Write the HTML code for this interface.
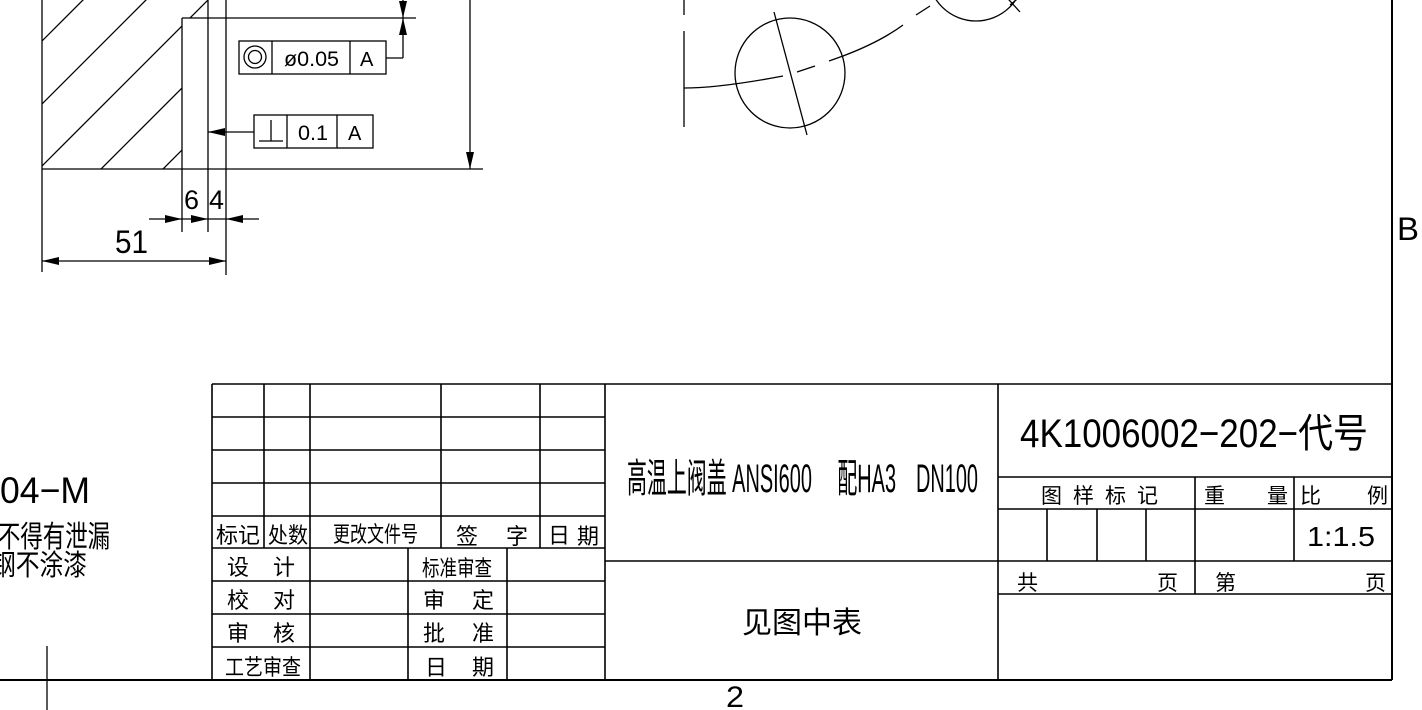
<!DOCTYPE html>
<html><head><meta charset="utf-8"><style>
html,body{margin:0;padding:0;background:#fff;}
svg{display:block;}
text{font-family:"Liberation Sans","Noto Sans CJK SC",sans-serif;fill:#000;}
</style></head><body>
<svg width="1422" height="710" viewBox="0 0 1422 710" xmlns="http://www.w3.org/2000/svg">
<defs>
<clipPath id="hc"><polygon points="42,0 208,0 208,18 182,18 182,169 42,169"/></clipPath>
</defs>
<g stroke="#000" stroke-width="1.3" fill="none">
<g clip-path="url(#hc)">
<line x1="-200" y1="221" x2="221" y2="-200"/>
<line x1="-200" y1="283" x2="283" y2="-200"/>
<line x1="-200" y1="346" x2="346" y2="-200"/>
<line x1="-200" y1="408" x2="408" y2="-200"/>
<line x1="-200" y1="470" x2="470" y2="-200"/>
<line x1="-200" y1="532" x2="532" y2="-200"/>
</g>
<line x1="42" y1="0" x2="42" y2="272"/>
<line x1="182" y1="18" x2="182" y2="232"/>
<line x1="208" y1="0" x2="208" y2="232"/>
<line x1="226" y1="0" x2="226" y2="275"/>
<line x1="42" y1="169" x2="483" y2="169"/>
<line x1="182" y1="18" x2="416" y2="18"/>
<line x1="470" y1="0" x2="470" y2="169"/>
<line x1="403" y1="0" x2="403" y2="58"/>
<line x1="386" y1="58" x2="403" y2="58"/>
<rect x="239" y="41" width="147" height="33"/>
<line x1="272" y1="41" x2="272" y2="74"/>
<line x1="350" y1="41" x2="350" y2="74"/>
<circle cx="255" cy="57" r="11"/><circle cx="255" cy="57" r="6.5"/>
<rect x="254" y="115" width="119" height="33"/>
<line x1="287" y1="115" x2="287" y2="148"/>
<line x1="337" y1="115" x2="337" y2="148"/>
<line x1="259" y1="141" x2="283" y2="141"/><line x1="271" y1="120" x2="271" y2="141"/>
<line x1="208" y1="132" x2="254" y2="132"/>
<line x1="149" y1="219" x2="259" y2="219"/>
<line x1="42" y1="261" x2="226" y2="261"/>
<line x1="684" y1="0" x2="684" y2="15"/>
<line x1="684" y1="31" x2="684" y2="127"/>
<path d="M684 88 Q720 88 783 76"/>
<path d="M797 72 L815 66 M829 61 L843 56 M843 56 Q880 42 903 25 M916 15 L930 6"/>
<circle cx="790" cy="73" r="55"/>
<line x1="774" y1="12" x2="807" y2="135"/>
<circle cx="976" cy="-27" r="48"/>
<line x1="1000" y1="-10" x2="1020" y2="12"/>
<line x1="1010" y1="5" x2="1022" y2="-5"/>
<line x1="0" y1="680" x2="1392" y2="680" stroke-width="2"/>
<line x1="1392" y1="0" x2="1392" y2="680" stroke-width="2"/>
<line x1="47" y1="646" x2="47" y2="710"/>
<g stroke-width="1.6">
<line x1="212" y1="384" x2="1392" y2="384"/>
<line x1="212" y1="384" x2="212" y2="680"/>
<line x1="605" y1="384" x2="605" y2="680"/>
<line x1="998" y1="384" x2="998" y2="680"/>
<line x1="212" y1="417" x2="605" y2="417"/>
<line x1="212" y1="450" x2="605" y2="450"/>
<line x1="212" y1="483" x2="605" y2="483"/>
<line x1="212" y1="516" x2="605" y2="516"/>
<line x1="212" y1="548" x2="605" y2="548"/>
<line x1="212" y1="581" x2="605" y2="581"/>
<line x1="212" y1="614" x2="605" y2="614"/>
<line x1="212" y1="647" x2="605" y2="647"/>
<line x1="264" y1="384" x2="264" y2="548"/>
<line x1="310" y1="384" x2="310" y2="680"/>
<line x1="441" y1="384" x2="441" y2="548"/>
<line x1="540" y1="384" x2="540" y2="548"/>
<line x1="408" y1="548" x2="408" y2="680"/>
<line x1="507" y1="548" x2="507" y2="680"/>
<line x1="605" y1="561" x2="998" y2="561"/>
<line x1="998" y1="477" x2="1392" y2="477"/>
<line x1="998" y1="509" x2="1392" y2="509"/>
<line x1="998" y1="561" x2="1392" y2="561"/>
<line x1="998" y1="594" x2="1392" y2="594"/>
<line x1="1195" y1="477" x2="1195" y2="594"/>
<line x1="1294" y1="477" x2="1294" y2="561"/>
<line x1="1047" y1="509" x2="1047" y2="561"/>
<line x1="1097" y1="509" x2="1097" y2="561"/>
<line x1="1146" y1="509" x2="1146" y2="561"/>
</g>
</g>
<g fill="#000">
<polygon points="470,169 466,152 474,152"/>
<polygon points="403,18 399,1 407,1"/>
<polygon points="403,18 399,35 407,35"/>
<polygon points="208,132 225,128 225,136"/>
<polygon points="182,219 165,215 165,223"/>
<polygon points="208,219 191,215 191,223"/>
<polygon points="226,219 243,215 243,223"/>
<polygon points="42,261 59,257 59,265"/>
<polygon points="226,261 209,257 209,265"/>
</g>
<text x="284" y="66" font-size="21" textLength="55" lengthAdjust="spacingAndGlyphs">ø0.05</text>
<text x="360" y="66" font-size="20">A</text>
<text x="298" y="140" font-size="21" textLength="30" lengthAdjust="spacingAndGlyphs">0.1</text>
<text x="348" y="140" font-size="20">A</text>
<text x="184" y="209" font-size="27" textLength="15" lengthAdjust="spacingAndGlyphs">6</text>
<text x="209" y="209" font-size="27" textLength="15" lengthAdjust="spacingAndGlyphs">4</text>
<text x="115" y="253" font-size="32" textLength="33" lengthAdjust="spacingAndGlyphs">51</text>
<text x="1397" y="240" font-size="32" textLength="22" lengthAdjust="spacingAndGlyphs">B</text>
<text x="726" y="707" font-size="30" textLength="18" lengthAdjust="spacingAndGlyphs">2</text>
<text x="0" y="503" font-size="37" textLength="90" lengthAdjust="spacingAndGlyphs">04−M</text>
<text x="-2" y="547" font-size="30" textLength="112" lengthAdjust="spacingAndGlyphs">不得有泄漏</text>
<text x="-8" y="575" font-size="29" textLength="95" lengthAdjust="spacingAndGlyphs">钢不涂漆</text>
<g font-size="22">
<text x="216" y="543" textLength="44" lengthAdjust="spacingAndGlyphs">标记</text>
<text x="268" y="543" textLength="40" lengthAdjust="spacingAndGlyphs">处数</text>
<text x="333" y="542" textLength="85" lengthAdjust="spacingAndGlyphs">更改文件号</text>
<text x="456" y="544">签</text><text x="506" y="544">字</text>
<text x="548" y="543">日</text><text x="577" y="544">期</text>
<text x="227" y="575">设</text><text x="273" y="575">计</text>
<text x="227" y="608">校</text><text x="273" y="608">对</text>
<text x="227" y="641">审</text><text x="273" y="641">核</text>
<text x="225" y="675" textLength="76" lengthAdjust="spacingAndGlyphs">工艺审查</text>
<text x="422" y="576" textLength="70" lengthAdjust="spacingAndGlyphs">标准审查</text>
<text x="423" y="608">审</text><text x="472" y="608">定</text>
<text x="423" y="641">批</text><text x="472" y="641">准</text>
<text x="425" y="675">日</text><text x="472" y="675">期</text>
</g>
<text x="627" y="492" font-size="40" textLength="351" lengthAdjust="spacingAndGlyphs">高温上阀盖 ANSI600　 配HA3　DN100</text>
<text x="742" y="633" font-size="30">见图中表</text>
<text x="1020" y="447" font-size="40" textLength="348" lengthAdjust="spacingAndGlyphs">4K1006002−202−代号</text>
<g font-size="21">
<text x="1041" y="503">图</text><text x="1073" y="503">样</text><text x="1105" y="503">标</text><text x="1137" y="503">记</text>
<text x="1204" y="503">重</text><text x="1267" y="503">量</text>
<text x="1300" y="503">比</text><text x="1367" y="503">例</text>
<text x="1017" y="590">共</text><text x="1157" y="590">页</text>
<text x="1215" y="590">第</text><text x="1365" y="590">页</text>
</g>
<text x="1307" y="546" font-size="28" textLength="68" lengthAdjust="spacingAndGlyphs">1:1.5</text>
</svg>
</body></html>
